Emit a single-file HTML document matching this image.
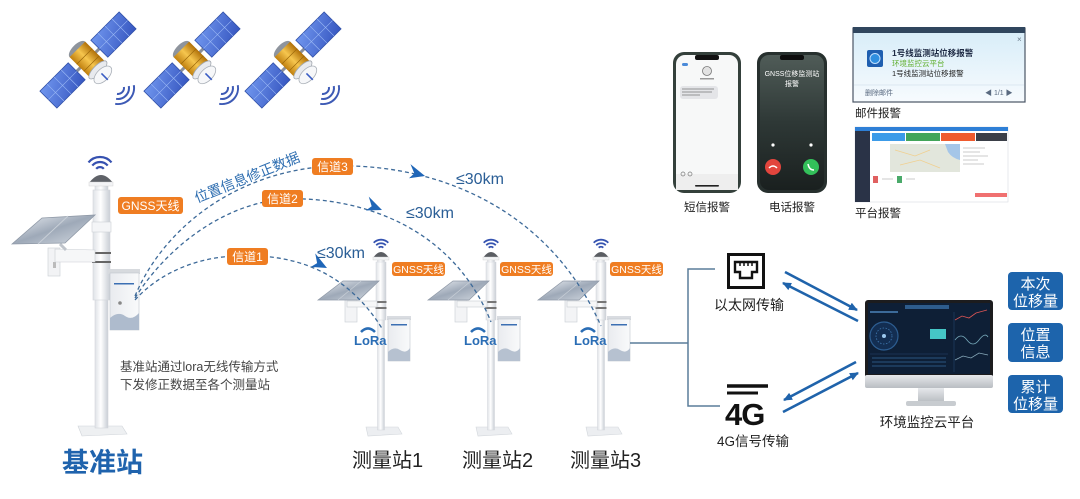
<!DOCTYPE html>
<html><head><meta charset="utf-8">
<style>
html,body{margin:0;padding:0;background:#fff;}
svg{display:block;}
text{font-family:"Liberation Sans","Noto Sans CJK SC",sans-serif;}
</style></head><body>
<svg width="1080" height="499" viewBox="0 0 1080 499" xmlns="http://www.w3.org/2000/svg">
<defs>
 <linearGradient id="panel" x1="0" y1="0" x2="1" y2="1"><stop offset="0" stop-color="#7096ee"/><stop offset="1" stop-color="#3656c0"/></linearGradient>
 <linearGradient id="gold" x1="0" y1="0" x2="1" y2="0"><stop offset="0" stop-color="#c0800f"/><stop offset=".5" stop-color="#f6c64e"/><stop offset="1" stop-color="#b07008"/></linearGradient>
 <linearGradient id="solar" x1="0" y1="0" x2="1" y2="1"><stop offset="0" stop-color="#eef1f5"/><stop offset=".5" stop-color="#9ea9b8"/><stop offset="1" stop-color="#d5dbe2"/></linearGradient>
 <linearGradient id="pole" x1="0" y1="0" x2="1" y2="0"><stop offset="0" stop-color="#dfe2e7"/><stop offset=".45" stop-color="#ffffff"/><stop offset="1" stop-color="#c9ced5"/></linearGradient>
 <linearGradient id="boxg" x1="0" y1="0" x2="1" y2="0"><stop offset="0" stop-color="#e9ebef"/><stop offset="1" stop-color="#f9fafb"/></linearGradient>
 <linearGradient id="silver" x1="0" y1="0" x2="0" y2="1"><stop offset="0" stop-color="#e6e8eb"/><stop offset="1" stop-color="#b9bdc2"/></linearGradient>
 <linearGradient id="ph2" x1="0" y1="0" x2="0" y2="1"><stop offset="0" stop-color="#505c58"/><stop offset=".5" stop-color="#2e3836"/><stop offset="1" stop-color="#1a201f"/></linearGradient>
 <linearGradient id="mail" x1="0" y1="0" x2="0" y2="1"><stop offset="0" stop-color="#d6ecf8"/><stop offset="1" stop-color="#f7fbfe"/></linearGradient>
 <marker id="ah" markerWidth="10" markerHeight="10" refX="8" refY="5" orient="auto" markerUnits="userSpaceOnUse">
  <path d="M0 1 L9 5 L0 9 Z" fill="#1f63ab"/>
 </marker>

 <g id="sat">
  <g transform="rotate(-45)">
   <rect x="-50" y="-1.5" width="100" height="3" fill="#8a8f99"/>
   <rect x="16" y="-12" width="40" height="24" fill="url(#panel)" stroke="#3050a8" stroke-width=".8"/>
   <path d="M26 -12V12M36 -12V12M46 -12V12M16 0H56" stroke="#9ab8f5" stroke-width=".6"/>
   <rect x="-56" y="-12" width="40" height="24" fill="url(#panel)" stroke="#3050a8" stroke-width=".8"/>
   <path d="M-26 -12V12M-36 -12V12M-46 -12V12M-56 0H-16" stroke="#9ab8f5" stroke-width=".6"/>
   <ellipse cx="0" cy="-15" rx="11" ry="5" fill="#8e949d"/>
   <rect x="-11" y="-15" width="22" height="28" fill="url(#gold)"/>
   <path d="M-11 -5H11M-11 5H11" stroke="#9a6608" stroke-width=".7"/>
   <ellipse cx="0" cy="14" rx="12" ry="4.5" fill="#e8eaee" stroke="#a0a6ae" stroke-width=".8"/>
   <ellipse cx="0" cy="21" rx="11" ry="6" fill="#f6f7f9" stroke="#aab0b8" stroke-width=".8"/>
   <line x1="0" y1="19" x2="0" y2="28" stroke="#3a5cc4" stroke-width="1.6"/>
  </g>
  <g fill="none" stroke="#3d5ab5" stroke-width="2">
   <path d="M35.9 27 A6 6 0 0 1 29 33.9"/>
   <path d="M40.8 26.1 A11 11 0 0 1 28.1 38.8"/>
   <path d="M45.8 25.2 A16 16 0 0 1 27.2 43.8"/>
  </g>
 </g>

 <g id="ms">
  <path d="M-15 427 L17 427 L21 434 L-13 436 Z" fill="#eceef1" stroke="#d3d7dc" stroke-width=".6"/>
  <rect x="-3.5" y="258" width="7" height="172" fill="url(#pole)" stroke="#d3d6db" stroke-width=".5"/>
  <rect x="-5" y="262" width="10" height="58" fill="url(#pole)" stroke="#d3d6db" stroke-width=".5"/>
  <rect x="-5.5" y="301" width="11" height="2" fill="#777"/>
  <rect x="-5.5" y="307" width="11" height="2" fill="#777"/>
  <rect x="-36" y="300" width="12" height="22" fill="#f3f4f6" stroke="#c9cdd3" stroke-width=".6"/>
  <rect x="-34" y="301" width="30" height="6" fill="#f6f7f8" stroke="#c9cdd3" stroke-width=".6"/>
  <polygon points="-63,300 -38,281 -2,281 -22,300" fill="url(#solar)" stroke="#8e98a6" stroke-width=".7"/>
  <line x1="-43" y1="300" x2="-20" y2="281" stroke="#c9d0d8" stroke-width=".7"/>
  <path d="M-8 258 Q0 246 8 258 Z" fill="#5a5d62"/>
  <rect x="-8" y="257" width="16" height="3" fill="#f2f3f5" stroke="#ccc" stroke-width=".4"/>
  <g fill="none" stroke="#3553b0" stroke-width="1.8">
   <path d="M-2.3 247.7 A3.3 3.3 0 0 1 2.3 247.7"/>
   <path d="M-4.8 245.2 A6.8 6.8 0 0 1 4.8 245.2"/>
   <path d="M-7.3 242.7 A10.3 10.3 0 0 1 7.3 242.7"/>
  </g>
  <rect x="6" y="316" width="24" height="4" fill="#d9dce1"/>
  <rect x="7" y="319" width="22" height="42" fill="url(#boxg)" stroke="#c2c7cd" stroke-width=".6"/>
  <rect x="10" y="324" width="16" height="1.5" fill="#3b6fb3"/>
  <path d="M7 352 Q13 346 19 350 T29 348 V361 H7 Z" fill="#b6c1d0"/>
  <path d="M-20 332 Q-13 325 -6 332" fill="none" stroke="#2a6db5" stroke-width="2.5"/>
  <text x="-27" y="345" font-size="13" font-weight="bold" fill="#2a6db5">LoRa</text>
 </g>
</defs>

<!-- satellites -->
<use href="#sat" transform="translate(88,60)"/>
<use href="#sat" transform="translate(192,60)"/>
<use href="#sat" transform="translate(293,60)"/>

<!-- base station -->
<path d="M78 426 L122 426 L127 434 L82 436 Z" fill="#eef0f2" stroke="#d0d4d9" stroke-width=".6"/>
<rect x="95" y="185" width="13" height="243" fill="url(#pole)" stroke="#d3d6db" stroke-width=".6"/>
<rect x="93" y="190" width="17" height="110" fill="url(#pole)" stroke="#d3d6db" stroke-width=".6"/>
<rect x="92" y="222" width="19" height="10" fill="#f4f5f7" stroke="#ccd0d5" stroke-width=".6"/>
<rect x="92" y="252" width="19" height="2" fill="#666"/>
<rect x="92" y="261" width="19" height="2" fill="#666"/>
<rect x="48" y="248" width="12" height="28" fill="#f2f3f5" stroke="#c9cdd3" stroke-width=".6"/>
<rect x="53" y="262" width="3" height="6" fill="#bbb"/>
<polygon points="55,249 95,250 95,262 55,262" fill="#f6f7f8" stroke="#c9cdd3" stroke-width=".6"/>
<line x1="60" y1="244" x2="66" y2="250" stroke="#bfc4cb" stroke-width="3"/>
<polygon points="12,244 42,218 95,215 65,243" fill="url(#solar)" stroke="#8e98a6" stroke-width=".8"/>
<line x1="38" y1="244" x2="68" y2="216" stroke="#c9d0d8" stroke-width=".9"/>
<path d="M89 183 Q101 167 113 183 Z" fill="#5f6268"/>
<rect x="89" y="182" width="24" height="4" fill="#f3f4f6" stroke="#ccc" stroke-width=".4"/>
<g fill="none" stroke="#3651b0" stroke-width="2.2">
 <path d="M96.2 168.8 A5 5 0 0 1 103.8 168.8"/>
 <path d="M92.3 165.6 A10 10 0 0 1 107.7 165.6"/>
 <path d="M88.5 162.4 A15 15 0 0 1 111.5 162.4"/>
</g>
<rect x="108" y="269" width="32" height="5" fill="#d7dade"/>
<rect x="110" y="273" width="29" height="57" fill="url(#boxg)" stroke="#c2c7cd" stroke-width=".6"/>
<rect x="114" y="283" width="20" height="1.5" fill="#3b6fb3"/>
<circle cx="120" cy="303" r="1.8" fill="#888"/>
<path d="M110 318 Q118 311 125 316 T139 313 V330 H110 Z" fill="#aebbcd"/>

<!-- measurement stations -->
<use href="#ms" transform="translate(381,0)"/>
<use href="#ms" transform="translate(491,0)"/>
<use href="#ms" transform="translate(601,0)"/>

<!-- dashed arcs -->
<g fill="none" stroke="#3d6a99" stroke-width="1.3" stroke-dasharray="4 3">
 <path d="M135 300 C160 272 200 256 240 256 C290 254 345 268 383 330"/>
 <path d="M135 298 C165 250 220 205 283 199 C350 196 450 220 491 322"/>
 <path d="M135 296 C165 225 240 170 333 166 C425 163 545 200 601 326"/>
</g>
<g fill="#1f66b8">
 <path d="M0 0 L-17 -8 L-11 0 L-15 6 Z" transform="translate(327,268) rotate(26)"/>
 <path d="M0 0 L-17 -8 L-11 0 L-15 6 Z" transform="translate(382,210) rotate(20)"/>
 <path d="M0 0 L-17 -8 L-11 0 L-15 6 Z" transform="translate(425,176) rotate(14)"/>
</g>

<!-- labels -->
<g font-size="12" fill="#fff" text-anchor="middle">
 <rect x="118" y="197" width="65" height="17" rx="3" fill="#ef7d22"/>
 <text x="150.5" y="210">GNSS天线</text>
 <rect x="227" y="248" width="41" height="17" rx="3" fill="#ef7d22"/>
 <text x="247.5" y="261">信道1</text>
 <rect x="262" y="190" width="41" height="17" rx="3" fill="#ef7d22"/>
 <text x="282.5" y="203">信道2</text>
 <rect x="312" y="158" width="41" height="17" rx="3" fill="#ef7d22"/>
 <text x="332.5" y="171">信道3</text>
</g>
<g font-size="10.5" fill="#fff" text-anchor="middle">
 <rect x="392" y="262" width="53" height="14" rx="3" fill="#ef7d22"/>
 <text x="418.5" y="273">GNSS天线</text>
 <rect x="500" y="262" width="53" height="14" rx="3" fill="#ef7d22"/>
 <text x="526.5" y="273">GNSS天线</text>
 <rect x="610" y="262" width="53" height="14" rx="3" fill="#ef7d22"/>
 <text x="636.5" y="273">GNSS天线</text>
</g>
<text x="197" y="203" font-size="14" fill="#2d6db0" transform="rotate(-22 197 203)">位置信息修正数据</text>
<g font-size="16" fill="#2a5e96">
 <text x="317" y="258">≤30km</text>
 <text x="406" y="218">≤30km</text>
 <text x="456" y="184">≤30km</text>
</g>

<text x="120" y="371" font-size="12.5" fill="#444">基准站通过lora无线传输方式</text>
<text x="120" y="389" font-size="12.5" fill="#444">下发修正数据至各个测量站</text>
<text x="62" y="472" font-size="27" font-weight="bold" fill="#1f63ad">基准站</text>
<g font-size="20" fill="#222">
 <text x="352" y="467">测量站1</text>
 <text x="462" y="467">测量站2</text>
 <text x="570" y="467">测量站3</text>
</g>

<!-- connectors right -->
<g fill="none" stroke="#5a7d9a" stroke-width="1.5">
 <path d="M630 343 H688"/>
 <path d="M715 269 H688 V406 H720"/>
</g>
<!-- ethernet icon -->
<rect x="728.5" y="254.5" width="35" height="33" fill="none" stroke="#111" stroke-width="3"/>
<path d="M735 262 H757 V272 H752 V278 H740 V272 H735 Z" fill="none" stroke="#111" stroke-width="2.4"/>
<path d="M740 262V266M744 262V266M748 262V266M752 262V266" stroke="#111" stroke-width="1.5"/>
<text x="749" y="310" font-size="14" fill="#222" text-anchor="middle">以太网传输</text>
<!-- 4G icon -->
<line x1="727" y1="386" x2="768" y2="386" stroke="#111" stroke-width="3.5"/>
<line x1="727" y1="393" x2="758" y2="393" stroke="#111" stroke-width="3"/>
<text x="725" y="425" font-size="31" font-weight="bold" fill="#111" letter-spacing="-1">4G</text>
<text x="753" y="446" font-size="13.5" fill="#222" text-anchor="middle">4G信号传输</text>

<!-- double arrows -->
<g stroke="#1f63ab" stroke-width="2.6" marker-end="url(#ah)">
 <line x1="785" y1="272" x2="857" y2="310"/>
 <line x1="858" y1="321" x2="783" y2="283"/>
 <line x1="856" y1="362" x2="784" y2="400"/>
 <line x1="783" y1="412" x2="858" y2="373"/>
</g>

<!-- monitor -->
<rect x="865" y="300" width="128" height="78" rx="3" fill="#1c1c1e"/>
<rect x="868" y="303" width="122" height="71" fill="#0e1f36"/>
<rect x="905" y="305" width="44" height="4" fill="#2e5c8c"/>
<rect x="870" y="311" width="28" height="2" fill="#3c6a99"/>
<circle cx="884" cy="336" r="14" fill="#132e52" stroke="#2d5e92" stroke-width="1.2"/>
<circle cx="884" cy="336" r="8" fill="none" stroke="#3f78b0" stroke-width=".8" stroke-dasharray="1.5 1.5"/>
<circle cx="884" cy="336" r="2" fill="#9cc8ee"/>
<rect x="930" y="329" width="16" height="10" fill="#45c6c6"/>
<path d="M955 320 L962 316 L969 318 L976 313 L987 310" fill="none" stroke="#d55" stroke-width=".8"/>
<path d="M955 340 Q961 332 967 340 T979 340 T988 337" fill="none" stroke="#7ab" stroke-width=".8"/>
<path d="M955 360 L963 356 L971 358 L979 353 L988 355" fill="none" stroke="#8ab" stroke-width=".8"/>
<path d="M954 312 V372 M870 354 H948" stroke="#24476e" stroke-width=".6"/>
<path d="M872 358 H946 M872 362 H946 M872 366 H946" stroke="#2b5580" stroke-width="1"/>
<rect x="865" y="375" width="128" height="13" rx="2" fill="url(#silver)"/>
<rect x="918" y="388" width="26" height="14" fill="url(#silver)"/>
<rect x="906" y="401" width="50" height="5" rx="2" fill="#c8ccd0"/>
<text x="927" y="427" font-size="13.5" fill="#222" text-anchor="middle">环境监控云平台</text>

<!-- blue boxes -->
<g fill="#1d64ac">
 <rect x="1008" y="272" width="55" height="38" rx="4"/>
 <rect x="1008" y="323" width="55" height="39" rx="4"/>
 <rect x="1008" y="375" width="55" height="38" rx="4"/>
</g>
<g font-size="15" fill="#fff" text-anchor="middle">
 <text x="1035.5" y="289">本次</text>
 <text x="1035.5" y="306">位移量</text>
 <text x="1035.5" y="340">位置</text>
 <text x="1035.5" y="357">信息</text>
 <text x="1035.5" y="392">累计</text>
 <text x="1035.5" y="409">位移量</text>
</g>

<!-- phone 1 -->
<rect x="673" y="52" width="68" height="141" rx="11" fill="#34403b"/>
<rect x="676" y="55" width="62" height="135" rx="9" fill="#f7f8f8"/>
<rect x="695" y="55" width="24" height="5" rx="2" fill="#111"/>
<circle cx="707" cy="71" r="4.5" fill="#e2e2e2" stroke="#777" stroke-width=".8"/>
<rect x="700" y="78" width="14" height="1.5" fill="#999"/>
<rect x="682" y="63" width="6" height="3" rx="1.5" fill="#4a8ad8"/>
<rect x="680" y="86" width="38" height="13" rx="3" fill="#e4e5e8"/>
<path d="M682 89 H714 M682 92 H712 M682 95 H700" stroke="#777" stroke-width=".8"/>
<rect x="676" y="174" width="62" height="16" fill="#eeeeee"/>
<circle cx="683" cy="174" r="2" fill="none" stroke="#777" stroke-width=".7"/>
<circle cx="690" cy="174" r="2" fill="none" stroke="#777" stroke-width=".7"/>
<rect x="695" y="185" width="24" height="1.6" rx=".8" fill="#222"/>
<text x="707" y="211" font-size="11.5" fill="#222" text-anchor="middle">短信报警</text>

<!-- phone 2 -->
<rect x="757" y="52" width="70" height="141" rx="11" fill="#27302e"/>
<rect x="760" y="55" width="64" height="135" rx="9" fill="url(#ph2)"/>
<rect x="780" y="55" width="24" height="5" rx="2" fill="#0d0d0d"/>
<text x="792" y="76" font-size="7" fill="#fff" text-anchor="middle">GNSS位移监测站</text>
<text x="792" y="86" font-size="7" fill="#fff" text-anchor="middle">报警</text>
<circle cx="773" cy="145" r="1.6" fill="#fff"/>
<circle cx="811" cy="145" r="1.6" fill="#fff"/>
<circle cx="773" cy="167" r="8" fill="#e2453d"/>
<circle cx="811" cy="167" r="8" fill="#33c05a"/>
<path d="M769 168 Q773 164 777 168" stroke="#fff" stroke-width="1.5" fill="none"/>
<path d="M808 164 Q809 170 814 170" stroke="#fff" stroke-width="1.5" fill="none"/>
<text x="792" y="211" font-size="11.5" fill="#222" text-anchor="middle">电话报警</text>

<!-- email notification -->
<rect x="853" y="28" width="172" height="74" fill="url(#mail)" stroke="#4a5565" stroke-width="1.2"/>
<rect x="853" y="27" width="172" height="6" fill="#30465e"/>
<text x="1017" y="42" font-size="8" fill="#6a7a8a">×</text>
<rect x="867" y="50" width="16" height="17" rx="2" fill="#1f5fb0"/>
<circle cx="875" cy="58.5" r="5" fill="#2f8fe0" stroke="#bfe0ff" stroke-width="1"/>
<text x="892" y="56" font-size="8.5" font-weight="bold" fill="#1e2a44">1号线监测站位移报警</text>
<text x="892" y="66" font-size="7.5" fill="#62b030">环境监控云平台</text>
<text x="892" y="76" font-size="7.5" fill="#222">1号线监测站位移报警</text>
<line x1="854" y1="85" x2="1024" y2="85" stroke="#d5e2ec" stroke-width=".8"/>
<text x="865" y="95" font-size="7" fill="#5a6a80">删除邮件</text>
<text x="985" y="95" font-size="7" fill="#5a6a80">◀  1/1  ▶</text>
<text x="855" y="117" font-size="11.5" fill="#222">邮件报警</text>

<!-- platform screenshot -->
<rect x="855" y="127" width="153" height="75" fill="#fff" stroke="#d8dde3" stroke-width=".6"/>
<rect x="855" y="127" width="153" height="4" fill="#2e7fd6"/>
<rect x="855" y="131" width="15" height="71" fill="#2a3347"/>
<rect x="872" y="133" width="33" height="8" fill="#3c9be8"/>
<rect x="906" y="133" width="34" height="8" fill="#43a55a"/>
<rect x="941" y="133" width="34" height="8" fill="#ef5b2e"/>
<rect x="976" y="133" width="31" height="8" fill="#3b3f48"/>
<rect x="890" y="144" width="70" height="28" fill="#e2e6dc"/>
<path d="M945 144 H960 V160 Q952 158 948 152 Z" fill="#a5c6e8"/>
<path d="M895 150 L915 156 L930 150 M900 165 L920 160 L940 168" stroke="#f0d090" stroke-width=".8" fill="none"/>
<path d="M963 148 H985 M963 152 H980 M963 156 H988 M963 160 H978 M963 164 H984" stroke="#bbb" stroke-width=".7"/>
<rect x="873" y="176" width="5" height="7" fill="#e06060"/>
<rect x="897" y="176" width="5" height="7" fill="#4aaa6a"/>
<path d="M882 179 H893 M906 179 H915" stroke="#bbb" stroke-width=".8"/>
<rect x="975" y="193" width="32" height="4" fill="#f07070"/>
<text x="855" y="217" font-size="11.5" fill="#222">平台报警</text>
</svg>
</body></html>
